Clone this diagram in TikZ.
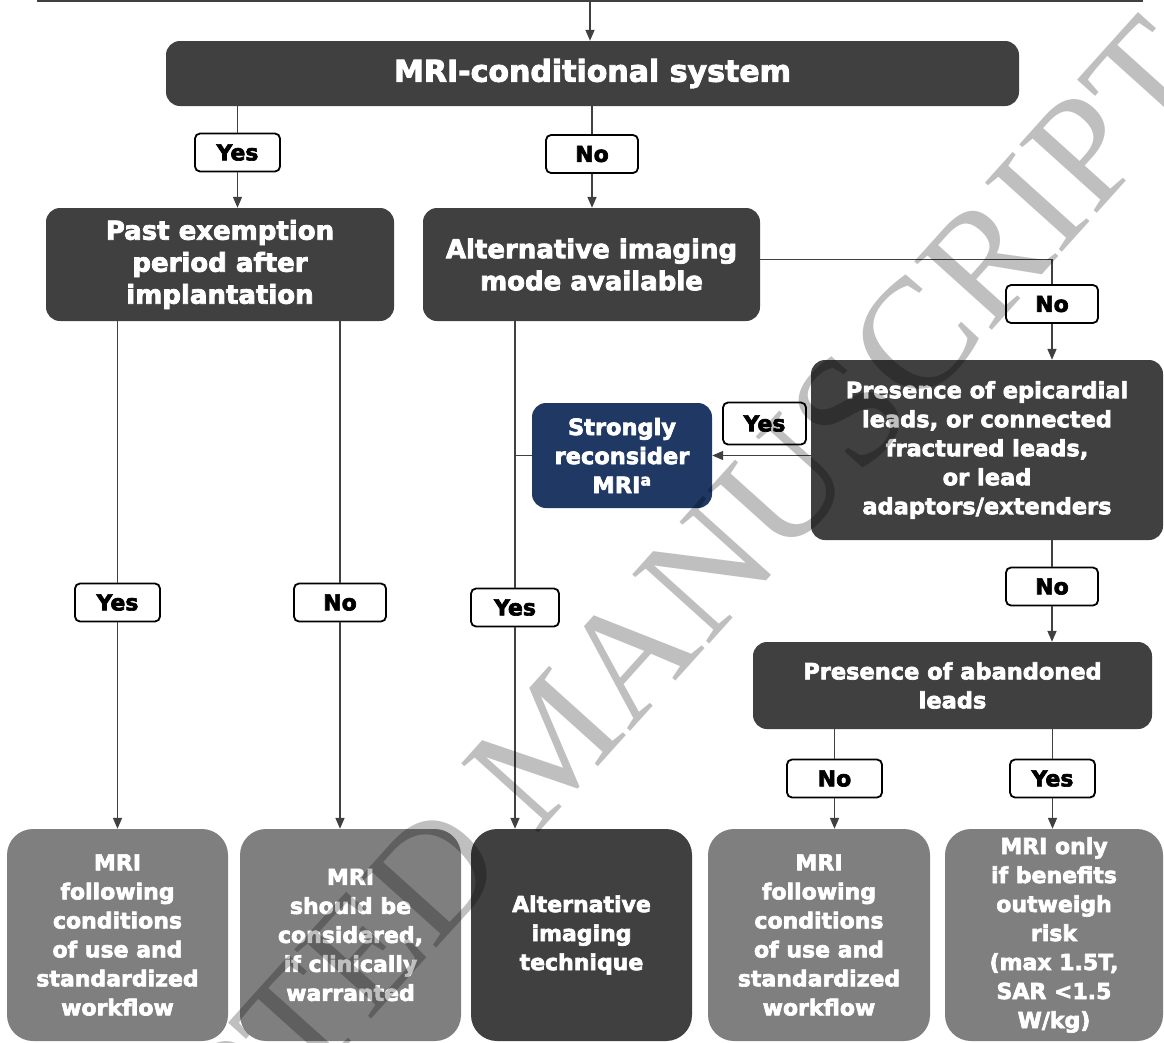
\documentclass[tikz,border=0pt]{standalone}
\usepackage{fontspec}
\setmainfont{DejaVu Sans}[BoldFeatures={FakeBold=3}]
\newfontfamily\wmfont{Liberation Serif}
\usetikzlibrary{positioning, arrows.meta, calc}
\definecolor{boxdark}{RGB}{64,64,64}
\definecolor{boxgrey}{RGB}{127,127,127}
\definecolor{boxnavy}{RGB}{31,56,100}

\begin{document}
\begin{tikzpicture}[x=1pt, y=-1pt,
    box/.style={rounded corners=14pt, align=center, inner sep=0pt, text=white,
                font=\bfseries\fontsize{22.5}{29}\selectfont},
    dark/.style={box, fill=boxdark},
    navy/.style={box, fill=boxnavy},
    big/.style={font=\bfseries\fontsize{26}{32}\selectfont},
    leaf/.style={box, fill=boxgrey, rounded corners=26pt, minimum width=221pt,
                 minimum height=212pt, font=\bfseries\fontsize{22}{29}\selectfont},
    lbl/.style={draw=black, line width=1.8pt, fill=white, rounded corners=5pt,
                minimum width=85pt, minimum height=38pt, inner sep=0pt,
                font=\bfseries\fontsize{22}{26}\selectfont},
    line/.style={draw=boxdark, line width=1.6pt},
    arr/.style={line, -{Triangle[length=11pt,width=9pt]}},
    wmark/.style={rotate=48, text=black, inner sep=0pt,
                  font=\wmfont\fontsize{158}{158}\selectfont}]
  \useasboundingbox (0,0) rectangle (1164,1042);

  % decision boxes
  \node[dark, minimum width=853pt, minimum height=65pt,
        font=\bfseries\fontsize{30}{36}\selectfont] (sys) at (592.5,73.5) {MRI-conditional system};
  \node[dark, big, minimum width=348pt, minimum height=113pt] (past) at (220,264.5)
    {Past exemption\\period after\\implantation};
  \node[dark, big, minimum width=337pt, minimum height=113pt] (alt) at (591.5,264.5)
    {Alternative imaging\\mode available};
  \node[dark, minimum width=352pt, minimum height=180pt] (epi) at (987,450)
    {Presence of epicardial\\leads, or connected\\fractured leads,\\or lead\\adaptors/extenders};
  \node[navy, minimum width=180pt, minimum height=105pt] (strong) at (622,455.5)
    {Strongly\\reconsider\\MRI\textsuperscript{a}};
  \node[dark, minimum width=399pt, minimum height=87pt] (aband) at (952.5,685.5)
    {Presence of abandoned\\leads};

  % outcomes
  \node[leaf] (b1) at (117.5,935)
    {MRI\\following\\conditions\\of use and\\standardized\\workflow};
  \node[leaf] (b2) at (350.5,935)
    {MRI\\should be\\considered,\\if clinically\\warranted};
  \node[leaf, fill=boxdark] (b3) at (581.5,935) {Alternative\\imaging\\technique};
  \node[leaf, minimum width=222pt] (b4) at (819,935)
    {MRI\\following\\conditions\\of use and\\standardized\\workflow};
  \node[leaf, minimum width=218pt] (b5) at (1054,935)
    {MRI only\\if benefits\\outweigh\\risk\\(max 1.5T,\\SAR <1.5\\W/kg)};

  % answers
  \node[lbl] (ysA) at (237.5,152.5) {Yes};
  \node[lbl, minimum width=92pt] (noA) at (592,154) {No};
  \node[lbl, minimum width=92pt] (noB) at (1052,304) {No};
  \node[lbl, minimum width=83pt, minimum height=42pt] (ysB) at (764.5,423.5) {Yes};
  \node[lbl] (ysC) at (117.5,602.5) {Yes};
  \node[lbl, minimum width=92pt] (noC) at (340,602.5) {No};
  \node[lbl, minimum width=88pt] (ysD) at (515,607.5) {Yes};
  \node[lbl, minimum width=92pt] (noD) at (1052,586.5) {No};
  \node[lbl, minimum width=95pt] (noE) at (834.5,778.5) {No};
  \node[lbl] (ysE) at (1052.5,778.5) {Yes};

  % connectors
  \coordinate (topin) at (590,1);
  \draw[line] (37,1) -- (1143,1);
  \draw[arr] (topin) -- (topin |- sys.north);
  \draw[line] (sys.south -| ysA) -- (ysA.north);
  \draw[arr] (ysA.south) -- (ysA.south |- past.north);
  \draw[line] (sys.south -| noA) -- (noA.north);
  \draw[arr] (noA.south) -- (noA.south |- alt.north);
  \draw[line] ([yshift=5pt]alt.east) -| (noB.north);
  \draw[arr] (noB.south) -- (noB.south |- epi.north);
  \draw[arr] (epi.west |- strong.east) -- (strong.east);
  \draw[line] (epi.south -| noD) -- (noD.north);
  \draw[arr] (noD.south) -- (noD.south |- aband.north);
  \draw[line] (past.south -| ysC) -- (ysC.north);
  \draw[arr] (ysC.south) -- (ysC.south |- b1.north);
  \draw[line] (past.south -| noC) -- (noC.north);
  \draw[arr] (noC.south) -- (noC.south |- b2.north);
  \draw[line] (alt.south -| ysD) -- (ysD.north);
  \draw[arr] (ysD.south) -- (ysD.south |- b3.north);
  \draw[line] (strong.west) -- (strong.west -| ysD);
  \draw[line] (aband.south -| noE) -- (noE.north);
  \draw[arr] (noE.south) -- (noE.south |- b4.north);
  \draw[line] (aband.south -| ysE) -- (ysE.north);
  \draw[arr] (ysE.south) -- (ysE.south |- b5.north);

  % watermark
  \begin{scope}[opacity=0.25]
    \clip (0,0) rectangle (1164,1042);
    \node[wmark] (wm) at (552,742) {ACCEPTED MANUSCRIPT};
  \end{scope}
\end{tikzpicture}
\end{document}
